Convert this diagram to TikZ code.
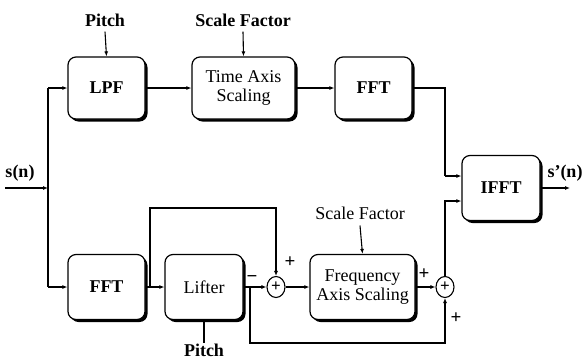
\documentclass[tikz,border=0pt]{standalone}
\usepackage{fontspec}
\setmainfont{Liberation Serif}
\usetikzlibrary{arrows.meta,shadows}
\tikzset{
  blk/.style={draw, line width=1.2pt, rounded corners=8pt, fill=white, align=center,
    font=\fontsize{18}{19.5}\selectfont, inner sep=0pt,
    drop shadow={shadow xshift=2.5pt, shadow yshift=-2.5pt, fill=black, opacity=1}},
  sumc/.style={draw, ellipse, line width=1.1pt, minimum width=18pt, minimum height=21pt, inner sep=0pt, fill=white,
    font=\bfseries\fontsize{17}{17}\selectfont},
  lbl/.style={font=\bfseries\fontsize{18}{19.5}\selectfont, inner sep=0pt},
  sgn/.style={font=\bfseries\fontsize{19}{19}\selectfont, inner sep=0pt},
  wire/.style={line width=1.1pt},
  arr/.style={wire, -{Latex[length=5pt,width=4pt]}},
}
\usetikzlibrary{shapes.geometric}
\begin{document}
\begin{tikzpicture}[x=1pt,y=-1pt]
\useasboundingbox (0,0) rectangle (584,360);
% blocks
\node[blk, minimum width=77pt, minimum height=62pt] (lpf) at (106.5,88) {\bfseries LPF};
\node[blk, minimum width=103pt, minimum height=62pt] (tas) at (243.5,88) {Time Axis\\Scaling};
\node[blk, minimum width=77pt, minimum height=62pt] (fft1) at (373.5,88) {\bfseries FFT};
\node[blk, minimum width=78pt, minimum height=65pt] (ifft) at (501,188) {\bfseries IFFT};
\node[blk, minimum width=77pt, minimum height=65pt] (fft2) at (106.5,287) {\bfseries FFT};
\node[blk, minimum width=78pt, minimum height=65pt] (lifter) at (204,287) {Lifter};
\node[blk, minimum width=105pt, minimum height=65pt] (fas) at (362.5,287) {Frequency\\Axis Scaling};
\node[sumc] (sum1) at (276,287) {+};
\node[sumc] (sum2) at (445,287) {+};
% labels
\node[lbl] (p1) at (105,20) {Pitch};
\node[lbl] (sf1) at (243,20) {Scale Factor};
\node[font=\fontsize{18}{19.5}\selectfont, inner sep=0pt] (sf2) at (360,213) {Scale Factor};
\node[lbl] (p2) at (204,350) {Pitch};
\node[lbl] (sin) at (20,173) {s(n)};
\node[lbl] (sout) at (565,173) {s'(n)};
% coordinates
\coordinate (inA) at (5,188);
\coordinate (jv) at (48,188);
\coordinate (jtop) at (48,88);
\coordinate (jbot) at (48,287);
\coordinate (ja) at (445,88);
\coordinate (jb) at (445,176);
\coordinate (jc) at (445,201);
\coordinate (fb1) at (150,287);
\coordinate (fb2) at (150,208);
\coordinate (fb3) at (276,208);
\coordinate (lo1) at (250,287);
\coordinate (lo2) at (250,343);
\coordinate (lo3) at (445,343);
\coordinate (outE) at (570,188);
% wires
\draw[arr] (inA) -- (jv);
\draw[wire] (jtop) -- (jbot);
\draw[arr] (jtop) -- (lpf.west);
\draw[arr] (jbot) -- (fft2.west);
\draw[arr] (p1.south) ++(0,5) -- (lpf.north);
\draw[arr] (sf1.south) ++(0,5) -- (tas.north);
\draw[arr] (sf2.south) ++(0,6) -- (fas.north);
\draw[wire] (lifter.south) -- (lifter.south |- p2.north);
\draw[arr] (lpf.east) -- (tas.west);
\draw[arr] (tas.east) -- (fft1.west);
\draw[wire] (fft1.east) -- (ja) -- (jb);
\draw[arr] (jb) -- (jb -| ifft.west);
\draw[arr] (sum2.north) -- (jc) -- (jc -| ifft.west);
\draw[arr] (fft2.east) -- (lifter.west);
\draw[arr] (fb1) -- (fb2) -- (fb3) -- (sum1.north);
\draw[arr] (lifter.east) -- (sum1.west);
\draw[arr] (lo1) -- (lo2) -- (lo3) -- (sum2.south);
\draw[arr] (sum1.east) -- (fas.west);
\draw[arr] (fas.east) -- (sum2.west);
\draw[arr] (ifft.east) -- (outE);
% signs
\node[sgn] (s1) at (290,262) {+};
\node[sgn] (s2) at (252,279) {\textminus};
\node[sgn] (s3) at (424,274) {+};
\node[sgn] (s4) at (456,318) {+};
\end{tikzpicture}
\end{document}
